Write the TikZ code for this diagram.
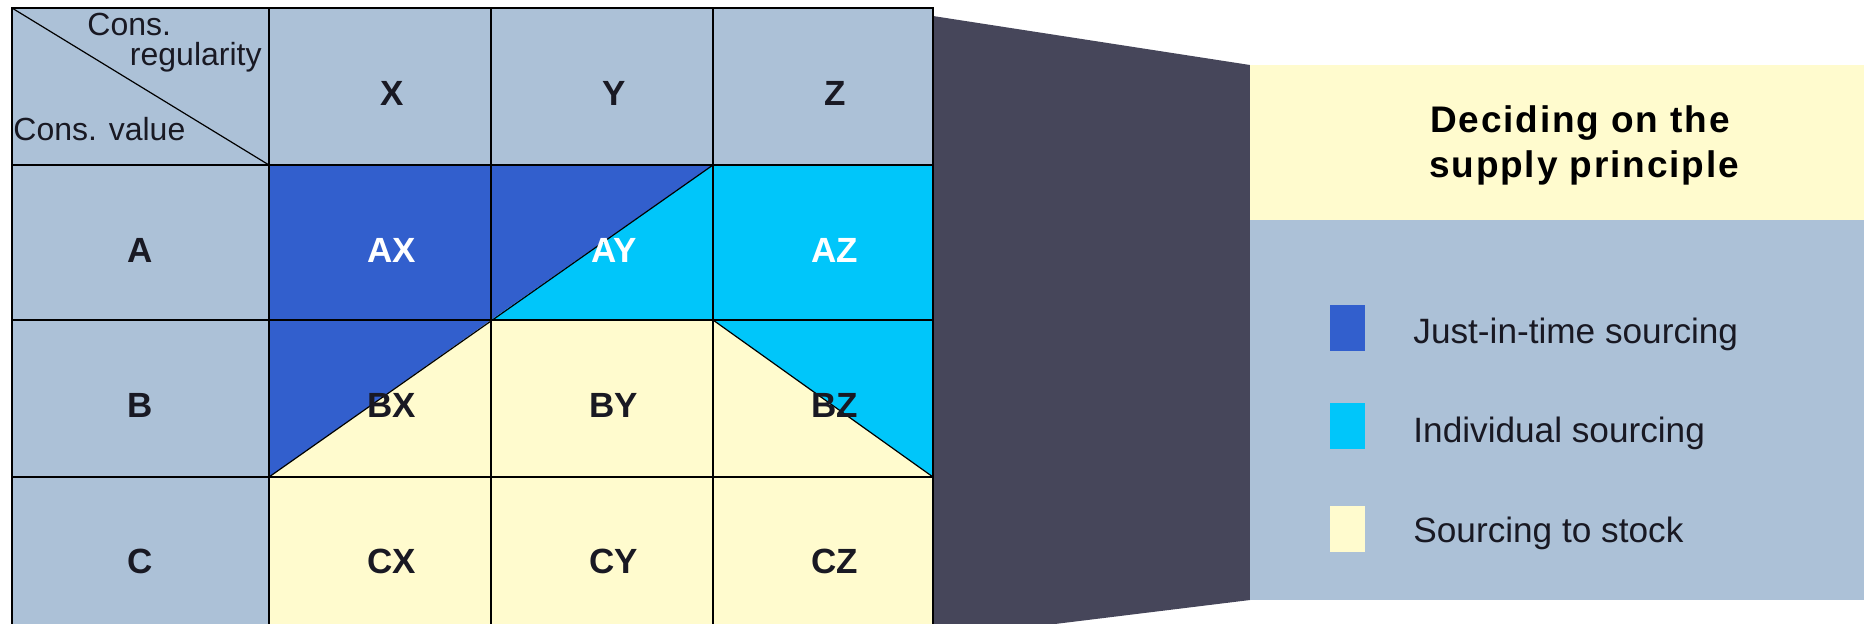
\documentclass[tikz,border=0pt]{standalone}
\usepackage{fontspec}
\setmainfont{Liberation Sans}
\newfontfamily\titlefont[LetterSpace=5]{Liberation Sans}
\definecolor{graybl}{RGB}{172,193,215}
\definecolor{jit}{RGB}{50,95,205}
\definecolor{indiv}{RGB}{0,198,250}
\definecolor{stock}{RGB}{255,251,206}
\definecolor{slate}{RGB}{70,70,90}
\definecolor{ink}{RGB}{25,25,35}
\tikzset{
  grid/.style={draw=black,line width=1.2pt},
  diag/.style={draw=black,line width=0.6pt},
  lbl/.style={font=\bfseries\fontsize{17.5}{20}\selectfont,text=ink,inner sep=0pt},
  wlbl/.style={lbl,text=white},
  corner/.style={font=\fontsize{16}{18}\selectfont,text=ink,inner sep=0pt},
  legtext/.style={font=\fontsize{17.6}{20}\selectfont,text=ink,inner sep=0pt,anchor=base west},
  legbox/.style={inner sep=0pt,minimum width=17.5pt,minimum height=23pt},
  ttl/.style={font=\titlefont\bfseries\fontsize{18.5}{20}\selectfont,text=black,inner sep=0pt,anchor=base}
}
\begin{document}
\begin{tikzpicture}[x=0.5pt,y=-0.5pt]
\clip (0,0) rectangle (1864,623);
\fill[white] (0,0) rectangle (1864,623);
% connector band
\fill[slate] (933,16) -- (1250,65) -- (1250,600) -- (933,639) -- cycle;
% right panel
\fill[stock] (1250,65) rectangle (1864,220);
\fill[graybl] (1250,220) rectangle (1864,600);
% table fills
\fill[graybl] (12,8) rectangle (933,165);
\fill[graybl] (12,165) rectangle (269,700);
\fill[jit] (269,165) rectangle (491,320);
\fill[jit] (491,320) -- (491,165) -- (713,165) -- cycle;
\fill[indiv] (491,320) -- (713,165) -- (713,320) -- cycle;
\fill[indiv] (713,165) rectangle (933,320);
\fill[stock] (269,320) rectangle (933,700);
\fill[jit] (269,320) -- (491,320) -- (269,477) -- cycle;
\fill[indiv] (713,320) -- (933,320) -- (933,477) -- cycle;
% diagonals
\draw[diag] (12,8) -- (269,165);
\draw[diag] (269,477) -- (713,165);
\draw[diag] (713,320) -- (933,477);
% grid
\draw[grid] (12,700) -- (12,8) -- (933,8) -- (933,700);
\foreach \x in {269,491,713} \draw[grid] (\x,8) -- (\x,700);
\foreach \y in {165,320,477} \draw[grid] (12,\y) -- (933,\y);
% corner labels
\node[corner,anchor=base west] (c1) at (87,35) {Cons.};
\node[corner,anchor=base east] (c2) at (262,65) {regularity};
\node[corner,anchor=base west] (c3) at (13,140) {Cons. value};
% headers
\node[lbl] (hx) at (392,93) {X};
\node[lbl] (hy) at (614,93) {Y};
\node[lbl] (hz) at (835,93) {Z};
\node[lbl] (ra) at (140,250) {A};
\node[lbl] (rb) at (140,405) {B};
\node[lbl] (rc) at (140,561) {C};
% cells
\node[wlbl] (ax) at (392,250) {AX};
\node[wlbl] (ay) at (614,250) {AY};
\node[wlbl] (az) at (835,250) {AZ};
\node[lbl] (bx) at (392,405) {BX};
\node[lbl] (by) at (614,405) {BY};
\node[lbl] (bz) at (835,405) {BZ};
\node[lbl] (cx) at (392,561) {CX};
\node[lbl] (cy) at (614,561) {CY};
\node[lbl] (cz) at (835,561) {CZ};
% title
\node[ttl] (t1) at (1580,132) {Deciding on the};
\node[ttl] (t2) at (1584,177) {supply principle};
% legend
\node[legbox,fill=jit] (k1) at (1347,328) {};
\node[legbox,fill=indiv] (k2) at (1347,426) {};
\node[legbox,fill=stock] (k3) at (1347,529) {};
\node[legtext] (l1) at (1413,343) {Just-in-time sourcing};
\node[legtext] (l2) at (1413,442) {Individual sourcing};
\node[legtext] (l3) at (1413,542) {Sourcing to stock};
\end{tikzpicture}
\end{document}
